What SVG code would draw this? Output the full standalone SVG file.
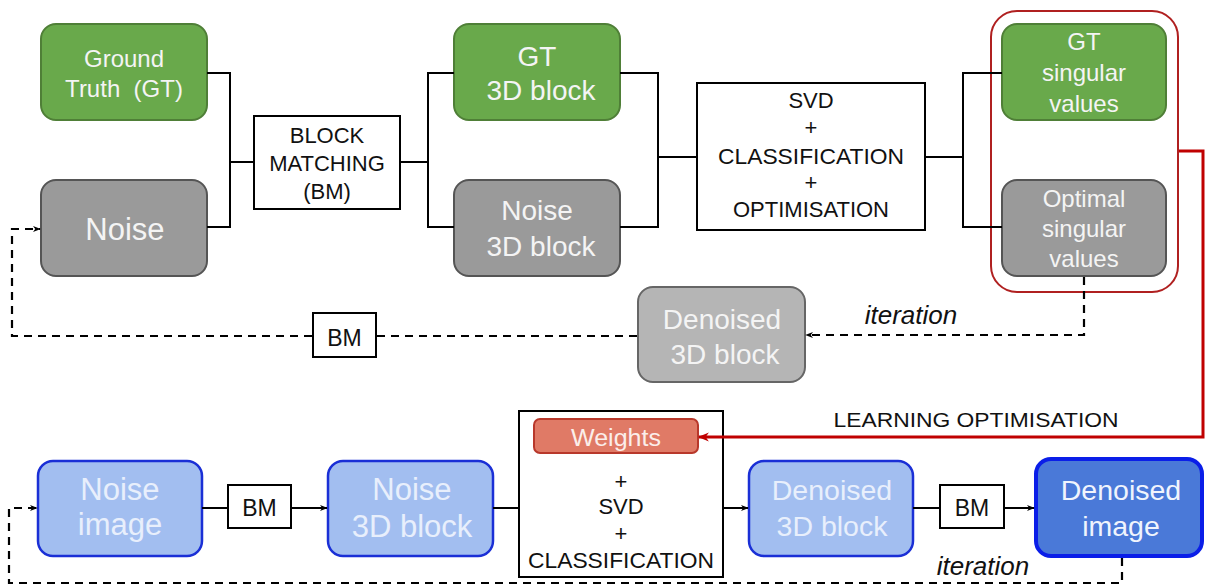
<svg xmlns="http://www.w3.org/2000/svg" width="1207" height="588" viewBox="0 0 1207 588">
<style>
text{font-family:"Liberation Sans",Arial,sans-serif;text-anchor:middle}
.g{fill:#69a94b;stroke:#4f7f37;stroke-width:2}
.k{fill:#9a9a9a;stroke:#555;stroke-width:2}
.lk{fill:#b5b5b5;stroke:#666;stroke-width:2}
.b{fill:#a2bef0;stroke:#1a2fd6;stroke-width:2.5}
.db{fill:#4a79d8;stroke:#0a1ee8;stroke-width:4}
.box{fill:#fff;stroke:#000;stroke-width:2}
.w{fill:#f4f4f4}
.lb{fill:#e8effc}
.t{fill:#111}
.ln{fill:none;stroke:#000;stroke-width:2}
.ds{fill:none;stroke:#000;stroke-width:2.2;stroke-dasharray:8,6}
.red{fill:none;stroke:#c00000;stroke-width:3}
</style>
<defs>
<marker id="ar" viewBox="0 0 10 10" refX="9" refY="5" markerWidth="8" markerHeight="8" markerUnits="userSpaceOnUse" orient="auto">
<path d="M0,1 L10,5 L0,9 L3,5 Z" fill="#000"/>
</marker>
<marker id="arr" viewBox="0 0 10 10" refX="9" refY="5" markerWidth="11" markerHeight="11" markerUnits="userSpaceOnUse" orient="auto">
<path d="M0,1 L10,5 L0,9 L3,5 Z" fill="#c00000"/>
</marker>
</defs>

<g id="learning-group">
<rect x="991" y="11" width="187" height="281" rx="26" fill="none" stroke="#b02020" stroke-width="2"/>
</g>

<g id="gt">
<rect class="g" x="41" y="24" width="166" height="96" rx="15"/>
<text class="w" x="124" y="67" font-size="24">Ground</text>
<text class="w" x="124" y="97" font-size="24">Truth&#160;&#160;(GT)</text>
</g>
<g id="noise">
<rect class="k" x="41" y="180" width="166" height="96" rx="15"/>
<text class="w" x="125" y="240" font-size="31">Noise</text>
</g>
<g id="bm-main">
<rect class="box" x="254" y="116" width="146" height="93"/>
<text class="t" x="327" y="143" font-size="22">BLOCK</text>
<text class="t" x="327" y="171" font-size="22">MATCHING</text>
<text class="t" x="327" y="199" font-size="22">(BM)</text>
</g>
<g id="gt3d">
<rect class="g" x="454" y="24" width="166" height="96" rx="15"/>
<text class="w" x="537" y="66" font-size="28">GT</text>
<text class="w" x="541" y="100" font-size="28">3D block</text>
</g>
<g id="noise3d">
<rect class="k" x="454" y="180" width="166" height="96" rx="15"/>
<text class="w" x="537" y="220" font-size="28">Noise</text>
<text class="w" x="541" y="256" font-size="28">3D block</text>
</g>
<g id="svd">
<rect class="box" x="697" y="83" width="228" height="147"/>
<text class="t" x="811" y="108" font-size="22">SVD</text>
<text class="t" x="811" y="135" font-size="22">+</text>
<text class="t" x="811" y="164" font-size="22" textLength="186" lengthAdjust="spacingAndGlyphs">CLASSIFICATION</text>
<text class="t" x="811" y="190" font-size="22">+</text>
<text class="t" x="811" y="217" font-size="22">OPTIMISATION</text>
</g>
<g id="gtsv">
<rect class="g" x="1002" y="24" width="164" height="96" rx="15"/>
<text class="w" x="1084" y="50" font-size="24">GT</text>
<text class="w" x="1084" y="81" font-size="24">singular</text>
<text class="w" x="1084" y="112" font-size="24">values</text>
</g>
<g id="optsv">
<rect class="k" x="1002" y="180" width="164" height="96" rx="15"/>
<text class="w" x="1084" y="207" font-size="24">Optimal</text>
<text class="w" x="1084" y="237" font-size="24">singular</text>
<text class="w" x="1084" y="267" font-size="24">values</text>
</g>
<g id="denoised3d-top">
<rect class="lk" x="638" y="287" width="167" height="95" rx="15"/>
<text class="w" x="722" y="329" font-size="28">Denoised</text>
<text class="w" x="725" y="364" font-size="28">3D block</text>
</g>
<g id="bm-top">
<rect class="box" x="313" y="313" width="63" height="44"/>
<text class="t" x="344.5" y="346" font-size="23">BM</text>
</g>
<text x="911" y="324" font-size="26" font-style="italic" class="t">iteration</text>
<text x="976" y="427" font-size="20.5" class="t" textLength="285" lengthAdjust="spacingAndGlyphs">LEARNING OPTIMISATION</text>

<g id="noise-image">
<rect class="b" x="38" y="461" width="164" height="95" rx="15"/>
<text class="lb" x="120" y="500" font-size="31">Noise</text>
<text class="lb" x="120" y="535" font-size="31">image</text>
</g>
<g id="bm-bot1">
<rect class="box" x="228" y="485" width="63" height="43"/>
<text class="t" x="259.5" y="516" font-size="23">BM</text>
</g>
<g id="noise3d-bot">
<rect class="b" x="328" y="461" width="165" height="95" rx="15"/>
<text class="lb" x="412" y="500" font-size="31">Noise</text>
<text class="lb" x="412" y="537" font-size="31">3D block</text>
</g>
<g id="svd-bot">
<rect class="box" x="519" y="411" width="204" height="166"/>
<rect x="534" y="419" width="164" height="34" rx="6" fill="#e07a66" stroke="#b8382b" stroke-width="2"/>
<text x="616" y="446" font-size="23" fill="#fbeeea" textLength="90" lengthAdjust="spacingAndGlyphs">Weights</text>
<text class="t" x="621" y="489" font-size="22">+</text>
<text class="t" x="621" y="514" font-size="22">SVD</text>
<text class="t" x="621" y="541" font-size="22">+</text>
<text class="t" x="621" y="568" font-size="22" textLength="186" lengthAdjust="spacingAndGlyphs">CLASSIFICATION</text>
</g>
<g id="denoised3d-bot">
<rect class="b" x="749" y="461" width="164" height="95" rx="15"/>
<text class="lb" x="832" y="500" font-size="28.5">Denoised</text>
<text class="lb" x="832" y="536" font-size="28.5">3D block</text>
</g>
<g id="bm-bot2">
<rect class="box" x="940" y="485" width="64" height="43"/>
<text class="t" x="972" y="516" font-size="23">BM</text>
</g>
<g id="denoised-image">
<rect class="db" x="1036" y="459" width="166" height="97" rx="15"/>
<text x="1121" y="500" font-size="28.5" fill="#f0f4fd">Denoised</text>
<text x="1121" y="536" font-size="28.5" fill="#f0f4fd">image</text>
</g>
<text x="983" y="575" font-size="26" font-style="italic" class="t">iteration</text>

<g id="connectors">
<path class="ln" d="M207,73 H230 V227 H207 M230,162 H254"/>
<path class="ln" d="M400,162 H428 M454,73 H428 V227 H454"/>
<path class="ln" d="M620,73 H658 V227 H620 M658,157 H697"/>
<path class="ln" d="M925,157 H963 M1002,73 H963 V227 H1002"/>
<path class="ds" d="M1084,277 V335 H806" marker-end="url(#ar)"/>
<path class="ds" d="M637,336 H377"/>
<path class="ds" d="M312,336 H12 V229 H40" marker-end="url(#ar)"/>
<path class="red" d="M1179,151 H1203 V437 H699" marker-end="url(#arr)"/>
<path class="ln" d="M202,508 H228"/>
<path class="ln" d="M291,508 H327" marker-end="url(#ar)"/>
<path class="ln" d="M493,508 H519"/>
<path class="ln" d="M723,508 H748" marker-end="url(#ar)"/>
<path class="ln" d="M913,508 H940"/>
<path class="ln" d="M1004,508 H1034" marker-end="url(#ar)"/>
<path class="ds" d="M1122,558 V583 H9 V508 H37" marker-end="url(#ar)"/>
</g>
</svg>
